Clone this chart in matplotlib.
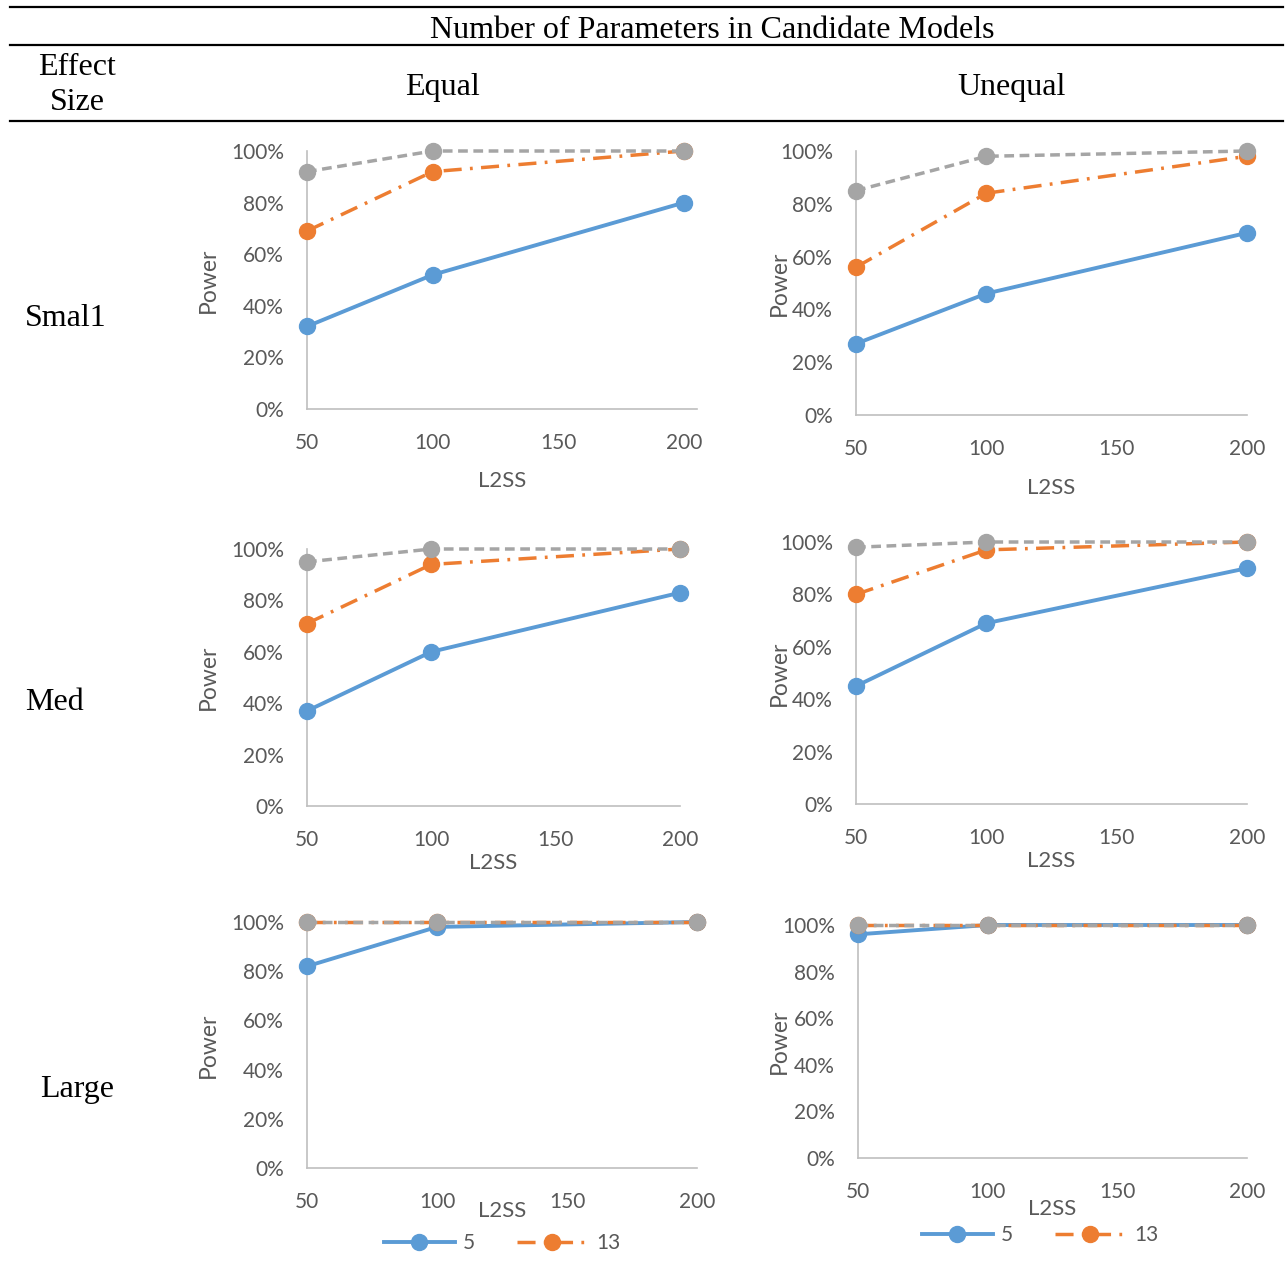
import matplotlib
matplotlib.use("Agg")
import matplotlib.pyplot as plt
from matplotlib.ticker import PercentFormatter

# power by level-2 sample size, for each effect size / parameter layout
l2ss = [50, 100, 200]

small_equal_5 = [0.32, 0.52, 0.80]
small_equal_13 = [0.69, 0.92, 1.00]
small_equal_other = [0.92, 1.00, 1.00]

small_unequal_5 = [0.27, 0.46, 0.69]
small_unequal_13 = [0.56, 0.84, 0.98]
small_unequal_other = [0.85, 0.98, 1.00]

med_equal_5 = [0.37, 0.60, 0.83]
med_equal_13 = [0.71, 0.94, 1.00]
med_equal_other = [0.95, 1.00, 1.00]

med_unequal_5 = [0.45, 0.69, 0.90]
med_unequal_13 = [0.80, 0.97, 1.00]
med_unequal_other = [0.98, 1.00, 1.00]

large_equal_5 = [0.82, 0.98, 1.00]
large_equal_13 = [1.00, 1.00, 1.00]
large_equal_other = [1.00, 1.00, 1.00]

large_unequal_5 = [0.96, 1.00, 1.00]
large_unequal_13 = [1.00, 1.00, 1.00]
large_unequal_other = [1.00, 1.00, 1.00]

row_labels = ["Smal1", "Med", "Large"]
col_labels = ["Equal", "Unequal"]
x_ticks = [50, 100, 150, 200]
y_ticks = [0, 0.2, 0.4, 0.6, 0.8, 1.0]

BLUE = "#5B9BD5"
ORANGE = "#ED7D31"
GRAY = "#A5A5A5"
TXT = "#595959"
AXC = "#BFBFBF"

plt.rcParams["lines.scale_dashes"] = False

W, H = 1286, 1276
fig = plt.figure(figsize=(W / 100, H / 100), dpi=100)


def fx(x):
    return x / W


def fy(y):
    return 1 - y / H


serif = "Liberation Serif"
sans = "Lato"
hsize = 23

# table rules and headers
for yy in (7, 45, 121):
    fig.add_artist(plt.Line2D([fx(10), fx(1283)], [fy(yy), fy(yy)], color="black", lw=1.6))
fig.text(fx(712), fy(30), "Number of Parameters in Candidate Models", family=serif,
         fontsize=hsize, ha="center", va="center")
fig.text(fx(77), fy(85), "Effect\nSize", family=serif, fontsize=hsize, ha="center",
         va="center", linespacing=1.25)
fig.text(fx(442), fy(87), col_labels[0], family=serif, fontsize=hsize, ha="center", va="center")
fig.text(fx(1012), fy(87), col_labels[1], family=serif, fontsize=hsize, ha="center", va="center")
fig.text(fx(25), fy(318), row_labels[0], family=serif, fontsize=hsize, ha="left", va="center")
fig.text(fx(25), fy(703), row_labels[1], family=serif, fontsize=hsize, ha="left", va="center")
fig.text(fx(40), fy(1090), row_labels[2], family=serif, fontsize=hsize, ha="left", va="center")

# panel boxes in pixels: left, right, top, bottom, x max, xlabel y, ylabel x
panels = [
    (307, 697, 151, 409, 205.2, 481, 208, small_equal_5, small_equal_13, small_equal_other),
    (856, 1247, 151, 415, 200, 488, 779, small_unequal_5, small_unequal_13, small_unequal_other),
    (307, 680, 549, 806, 200, 863, 208, med_equal_5, med_equal_13, med_equal_other),
    (856, 1247, 542, 804, 200, 861, 779, med_unequal_5, med_unequal_13, med_unequal_other),
    (307, 697, 922, 1168, 200, 1211, 208, large_equal_5, large_equal_13, large_equal_other),
    (858, 1247, 925, 1158, 200, 1209, 779, large_unequal_5, large_unequal_13, large_unequal_other),
]

axes = []
for left, right, top, bottom, xmax, xly, ylx, p5, p13, pother in panels:
    ax = fig.add_axes([fx(left), fy(bottom), (right - left) / W, (bottom - top) / H])
    ax.plot(l2ss, p5, color=BLUE, lw=2.8, marker="o", ms=11.5, clip_on=False,
            label="5", zorder=3)
    ax.plot(l2ss, p13, color=ORANGE, lw=2.5, ls=(0, (13, 6, 2, 6)), marker="o", ms=11.5,
            clip_on=False, label="13", zorder=4)
    ax.plot(l2ss, pother, color=GRAY, lw=2.5, ls=(0, (7, 4)), marker="o", ms=11.5,
            clip_on=False, label="_nolegend_", zorder=5)
    ax.set_xlim(50, xmax)
    ax.set_ylim(0, 1)
    ax.set_xticks(x_ticks)
    ax.set_yticks(y_ticks)
    ax.yaxis.set_major_formatter(PercentFormatter(1.0, decimals=0))
    for s in ("top", "right"):
        ax.spines[s].set_visible(False)
    for s in ("left", "bottom"):
        ax.spines[s].set_color(AXC)
        ax.spines[s].set_linewidth(1.2)
    ax.tick_params(length=0, labelsize=15, labelcolor=TXT, pad=0)
    ax.tick_params(axis="x", pad=17.5)
    ax.tick_params(axis="y", pad=16.5)
    for lab in ax.get_xticklabels() + ax.get_yticklabels():
        lab.set_family(sans)
    ax.patch.set_alpha(0)
    fig.text(fx((left + right) / 2), fy(xly), "L2SS", family=sans, fontsize=16,
             color=TXT, ha="center", va="center")
    fig.text(fx(ylx), fy((top + bottom) / 2), "Power", family=sans, fontsize=16.5,
             color=TXT, ha="center", va="center", rotation=90)
    axes.append(ax)

# legends under the bottom panels
for ax, cx, cy in ((axes[4], 502, 1243), (axes[5], 1040, 1235)):
    ax.legend(loc="center", bbox_to_anchor=(fx(cx), fy(cy)), bbox_transform=fig.transFigure,
              ncol=2, frameon=False, handlelength=3.4, handletextpad=0.4,
              columnspacing=2.0, prop={"family": sans, "size": 15}, labelcolor=TXT)

fig.savefig("out.png", dpi=100, facecolor="white")
